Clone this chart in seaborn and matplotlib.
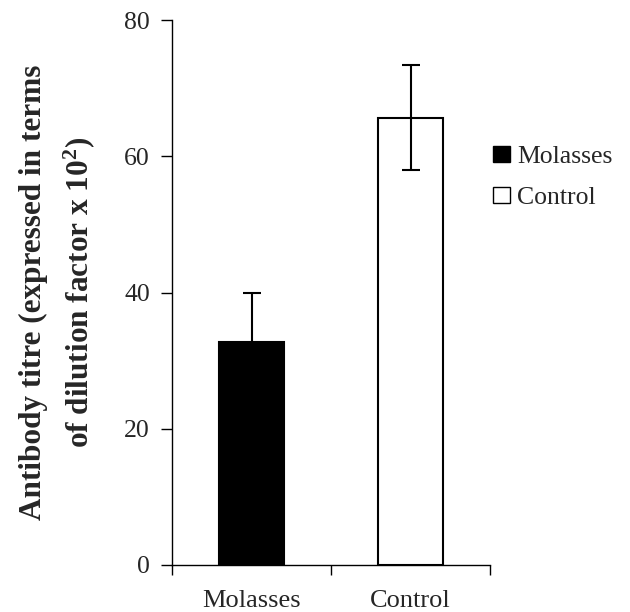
import matplotlib
matplotlib.use("Agg")
import matplotlib.pyplot as plt
import seaborn as sns
import pandas as pd
from matplotlib.patches import Patch

groups = ["Molasses", "Control"]
titre = [32.8, 65.7]
titre_err = [7.2, 7.7]
bar_colors = ["black", "white"]

sns.set_theme(style="white")
plt.rcParams["font.family"] = ["Liberation Serif", "DejaVu Serif"]
plt.rcParams["mathtext.fontset"] = "custom"
plt.rcParams["mathtext.rm"] = "Liberation Serif:bold"
plt.rcParams["mathtext.bf"] = "Liberation Serif:bold"
plt.rcParams["mathtext.it"] = "Liberation Serif:bold"

df = pd.DataFrame({"group": groups, "titre": titre})

fig = plt.figure(figsize=(6.3, 6.12), dpi=100)
ax = fig.add_axes([0.273, 0.077, 0.505, 0.890])

sns.barplot(data=df, x="group", y="titre", hue="group", order=groups,
            palette=dict(zip(groups, bar_colors)), edgecolor="black",
            linewidth=1.5, width=0.41, legend=False, ax=ax)
for p in ax.patches:
    p.set_zorder(2)

# error bars drawn above the bars
eb = ax.errorbar(range(len(groups)), titre, yerr=titre_err, fmt="none",
                 ecolor="black", elinewidth=1.5, capsize=6.3, capthick=1.5)
for art in list(eb.lines[1]) + list(eb.lines[2]):
    art.set_zorder(3)

ax.set_xlim(-0.5, 1.5)
ax.set_ylim(0, 80)
ax.set_yticks([0, 20, 40, 60, 80])
ax.set_xticks([0, 1])
ax.set_xticklabels(groups)
ax.set_xticks([-0.5, 0.5, 1.5], minor=True)
ax.tick_params(axis="x", which="major", length=0, pad=18, labelsize=19)
ax.tick_params(axis="x", which="minor", length=7, width=1, color="black", direction="out", bottom=True)
ax.tick_params(axis="y", length=8, width=1, color="black", direction="out", left=True, labelsize=18.5, pad=8)

sns.despine(ax=ax)
for s in ["left", "bottom"]:
    ax.spines[s].set_color("black")
    ax.spines[s].set_linewidth(1)

ax.set_xlabel("")
ax.set_ylabel("Antibody titre (expressed in terms\nof dilution factor x 10$^2$)",
              fontsize=22.5, fontweight="bold", linespacing=1.5)
ax.yaxis.set_label_coords(-0.235, 0.5)

handles = [Patch(facecolor=c, edgecolor="black", label=g) for g, c in zip(groups, bar_colors)]
fig.legend(handles=handles, loc="upper left", bbox_to_anchor=(0.782, 0.761),
           frameon=False, fontsize=18.5, handlelength=0.66, handleheight=0.58,
           handletextpad=0.3, labelspacing=0.73, borderpad=0, borderaxespad=0)

fig.savefig("out.png", dpi=100, facecolor="white")
